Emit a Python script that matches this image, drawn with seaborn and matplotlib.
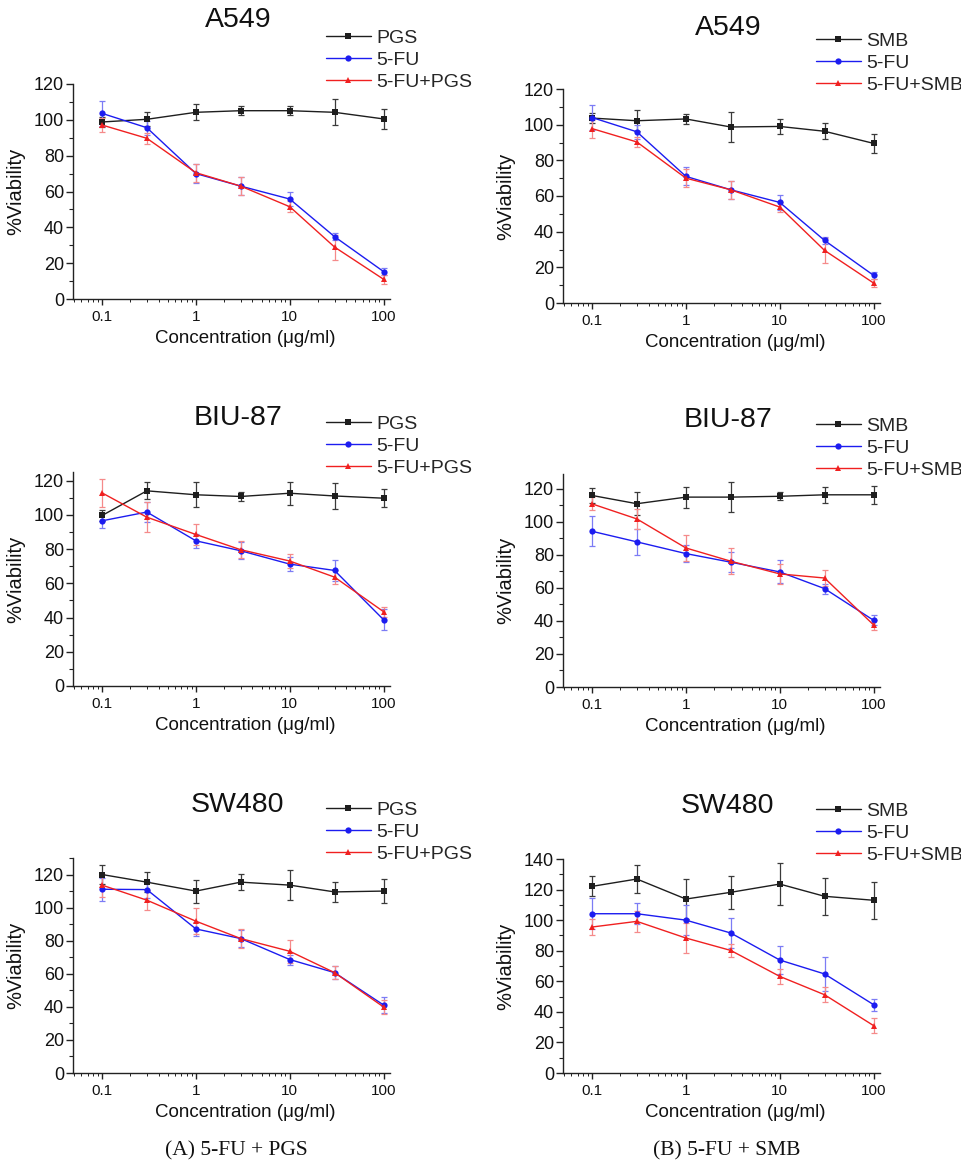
import numpy as np
import pandas as pd
import matplotlib
matplotlib.use("Agg")
import matplotlib.pyplot as plt
from matplotlib.ticker import LogLocator, NullFormatter, MultipleLocator, FixedLocator, FixedFormatter
import seaborn as sns

# ---------------- data ----------------
conc = [0.1, 0.3, 1, 3, 10, 30, 100]
xtick_vals = [0.1, 1, 10, 100]
xtick_labels = ["0.1", "1", "10", "100"]
cell_lines = ["A549", "BIU-87", "SW480"]

# Column A : PGS / 5-FU / 5-FU+PGS
a549_pgs = [98.8, 100.3, 104.2, 105.1, 105.1, 104.2, 100.5]
a549_pgs_err = [3.0, 4.0, 4.5, 2.5, 2.5, 7.3, 5.7]
a549_fu_a = [103.6, 95.6, 70.0, 63.0, 55.8, 34.8, 15.3]
a549_fu_a_err = [7.0, 4.0, 5.5, 5.0, 4.0, 2.0, 2.0]
a549_combo_pgs = [97.1, 89.7, 70.5, 63.0, 51.5, 29.0, 11.0]
a549_combo_pgs_err = [4.0, 3.0, 5.0, 5.0, 3.0, 7.0, 2.5]

biu_pgs = [99.6, 114.0, 111.7, 110.7, 112.6, 111.0, 109.7]
biu_pgs_err = [3.0, 5.0, 7.3, 2.5, 6.6, 7.8, 5.3]
biu_fu_a = [96.5, 101.6, 84.8, 79.0, 71.2, 67.5, 38.7]
biu_fu_a_err = [4.5, 6.0, 4.0, 5.0, 4.0, 6.0, 6.0]
biu_combo_pgs = [112.8, 98.6, 88.5, 79.6, 73.0, 63.6, 43.4]
biu_combo_pgs_err = [8.0, 8.6, 6.0, 5.0, 4.0, 4.0, 3.0]

sw_pgs = [120.0, 115.4, 110.0, 115.4, 113.6, 109.5, 110.0]
sw_pgs_err = [6.0, 6.0, 7.0, 5.0, 9.0, 6.0, 7.3]
sw_fu_a = [111.1, 110.9, 87.1, 81.3, 68.6, 60.7, 41.1]
sw_fu_a_err = [7.0, 5.0, 4.0, 5.0, 3.0, 4.0, 5.0]
sw_combo_pgs = [113.6, 104.5, 91.8, 81.3, 73.6, 60.7, 39.9]
sw_combo_pgs_err = [7.0, 6.0, 8.0, 6.0, 7.0, 4.0, 4.0]

# Column B : SMB / 5-FU / 5-FU+SMB
a549_smb = [103.7, 102.2, 103.2, 98.7, 99.0, 96.3, 89.5]
a549_smb_err = [3.0, 6.0, 3.0, 8.4, 4.4, 4.5, 5.2]
a549_fu_b = [104.0, 96.0, 71.0, 63.5, 56.4, 35.1, 15.5]
a549_fu_b_err = [7.0, 4.0, 5.0, 5.0, 4.0, 2.0, 2.0]
a549_combo_smb = [97.8, 90.3, 70.0, 63.5, 53.8, 29.5, 11.2]
a549_combo_smb_err = [5.0, 3.0, 5.0, 5.0, 3.0, 7.0, 2.5]

biu_smb = [116.0, 111.0, 115.0, 115.0, 115.5, 116.4, 116.4]
biu_smb_err = [4.7, 7.0, 6.4, 9.3, 2.5, 5.0, 5.5]
biu_fu_b = [94.3, 87.9, 80.8, 75.6, 69.7, 59.6, 40.4]
biu_fu_b_err = [9.0, 8.0, 5.0, 6.0, 7.0, 3.0, 3.0]
biu_combo_smb = [110.9, 101.8, 84.2, 76.2, 68.5, 66.0, 37.6]
biu_combo_smb_err = [4.0, 6.0, 8.0, 8.0, 6.0, 5.0, 3.0]

sw_smb = [122.1, 126.9, 113.8, 118.2, 123.6, 115.6, 113.0]
sw_smb_err = [6.5, 9.0, 13.0, 11.0, 13.5, 12.0, 12.0]
sw_fu_b = [104.2, 104.2, 100.0, 91.6, 73.9, 64.8, 44.7]
sw_fu_b_err = [10.0, 7.0, 10.0, 10.0, 9.0, 11.0, 4.0]
sw_combo_smb = [95.5, 99.2, 88.3, 80.2, 63.2, 51.2, 31.0]
sw_combo_smb_err = [5.0, 7.0, 10.0, 4.0, 5.0, 5.0, 5.0]

labels_a = ["PGS", "5-FU", "5-FU+PGS"]
labels_b = ["SMB", "5-FU", "5-FU+SMB"]
captions = ["(A) 5-FU + PGS", "(B) 5-FU + SMB"]
ylims = [[120, 120], [125, 129], [130, 140]]

panels = [
    [
        [(a549_pgs, a549_pgs_err), (a549_fu_a, a549_fu_a_err), (a549_combo_pgs, a549_combo_pgs_err)],
        [(a549_smb, a549_smb_err), (a549_fu_b, a549_fu_b_err), (a549_combo_smb, a549_combo_smb_err)],
    ],
    [
        [(biu_pgs, biu_pgs_err), (biu_fu_a, biu_fu_a_err), (biu_combo_pgs, biu_combo_pgs_err)],
        [(biu_smb, biu_smb_err), (biu_fu_b, biu_fu_b_err), (biu_combo_smb, biu_combo_smb_err)],
    ],
    [
        [(sw_pgs, sw_pgs_err), (sw_fu_a, sw_fu_a_err), (sw_combo_pgs, sw_combo_pgs_err)],
        [(sw_smb, sw_smb_err), (sw_fu_b, sw_fu_b_err), (sw_combo_smb, sw_combo_smb_err)],
    ],
]

# ---------------- style ----------------
sns.set_theme(style="ticks")
plt.rcParams["font.family"] = ["Liberation Sans", "DejaVu Sans"]

line_colors = ["#1e1e1e", "#1c1cf0", "#f02020"]
err_colors = ["#3a3a3a", "#7c7cf5", "#f58a8a"]
markers = ["s", "o", "^"]

W, H = 962, 1165
fig = plt.figure(figsize=(W / 100, H / 100), dpi=100)

# axes frames in pixels: (left, top, right, bottom)
frames = [
    [(73, 84, 390, 299), (563, 89, 880, 303)],
    [(73, 472, 390, 686), (563, 474, 880, 687)],
    [(73, 858, 390, 1073), (563, 859, 880, 1073)],
]
title_gap = [[57, 54], [47, 47], [46, 46]]
legend_mid = [[24, 26], [26, 26], [26, 26]]

for r in range(3):
    for c in range(2):
        l, t, rr, b = frames[r][c]
        ax = fig.add_axes([l / W, 1 - b / H, (rr - l) / W, (b - t) / H])
        labels = labels_a if c == 0 else labels_b
        recs = []
        for k, (vals, errs) in enumerate(panels[r][c]):
            for x, v, e in zip(conc, vals, errs):
                recs.append({"conc": x, "viability": v, "err": e, "series": labels[k]})
        df = pd.DataFrame(recs)
        for k, lab in enumerate(labels):
            sub = df[df["series"] == lab]
            ax.errorbar(sub["conc"], sub["viability"], yerr=sub["err"], fmt="none",
                        ecolor=err_colors[k], elinewidth=0.9, capsize=2.5, capthick=0.9, zorder=2)
        sns.lineplot(data=df, x="conc", y="viability", hue="series", style="series",
                     hue_order=labels, style_order=labels,
                     palette=dict(zip(labels, line_colors)),
                     markers=dict(zip(labels, markers)), dashes=False,
                     markersize=4.5, markeredgewidth=0, linewidth=1.0,
                     sort=True, ax=ax, zorder=3)
        ax.set_xscale("log")
        ax.set_xlim(0.049, 117)
        ax.set_ylim(0, ylims[r][c])
        ax.xaxis.set_major_locator(FixedLocator(xtick_vals))
        ax.xaxis.set_major_formatter(FixedFormatter(xtick_labels))
        ax.xaxis.set_minor_locator(LogLocator(base=10, subs=np.arange(2, 10), numticks=20))
        ax.xaxis.set_minor_formatter(NullFormatter())
        ax.yaxis.set_major_locator(MultipleLocator(20))
        ax.yaxis.set_minor_locator(MultipleLocator(10))
        for s in ["top", "right"]:
            ax.spines[s].set_visible(False)
        for s in ["left", "bottom"]:
            ax.spines[s].set_color("#222222")
            ax.spines[s].set_linewidth(1.0)
        ax.tick_params(axis="y", which="major", direction="out", length=5, width=1,
                       labelsize=13, pad=1.5, colors="#222222", labelcolor="#111111")
        ax.tick_params(axis="y", which="minor", direction="out", length=3, width=0.8, colors="#222222")
        ax.tick_params(axis="x", which="major", direction="out", length=4, width=1,
                       labelsize=11, pad=4, colors="#222222", labelcolor="#111111")
        ax.tick_params(axis="x", which="minor", direction="out", length=2.2, width=0.7, colors="#222222")
        ax.set_xlabel("Concentration (μg/ml)", fontsize=13.5, color="#111111", labelpad=4)
        ax.xaxis.label.set_x(0.542)
        ax.set_ylabel("%Viability", fontsize=14.5, color="#111111", labelpad=6)
        ax.set_title(cell_lines[r], fontsize=20.5, color="#111111", pad=title_gap[r][c] * 0.72)
        ax.title.set_x(0.52)
        handles, hl = ax.get_legend_handles_labels()
        ax.legend(handles, hl, loc="center left", frameon=False,
                  bbox_to_anchor=((l + 253) / W, 1 - (t - legend_mid[r][c]) / H),
                  bbox_transform=fig.transFigure,
                  fontsize=14, handlelength=2.3, handletextpad=0.3, labelspacing=0.22,
                  borderpad=0, borderaxespad=0)

fig.text(236 / W, 1 - 1151 / H, captions[0], ha="center", va="center",
         fontsize=15.5, family="Liberation Serif", color="#111111")
fig.text(727 / W, 1 - 1151 / H, captions[1], ha="center", va="center",
         fontsize=15.5, family="Liberation Serif", color="#111111")

fig.savefig("out.png", dpi=100, facecolor="white")
